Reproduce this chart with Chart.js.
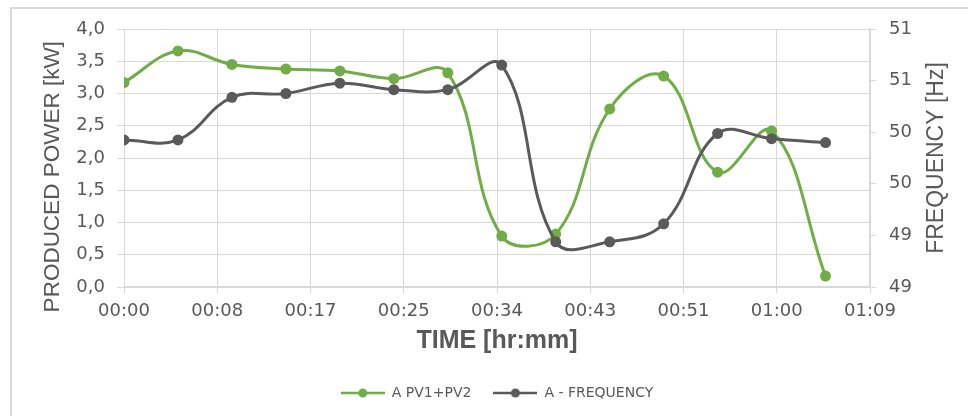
<!DOCTYPE html>
<html>
<head>
<meta charset="utf-8">
<script src="https://cdn.jsdelivr.net/npm/chart.js@4/dist/chart.umd.min.js"></script>
<style>
  html, body { margin: 0; padding: 0; background: #fff; }
  #wrap { position: relative; width: 968px; height: 416px; overflow: hidden; }
  #frame { position: absolute; left: 10px; top: 7px; width: 1000px; height: 500px; border: 2px solid #d9d9d9; }
  #box { position: absolute; left: 0; top: 0; width: 968px; height: 416px; }
</style>
</head>
<body>
<div id="wrap">
  <div id="frame"></div>
  <div id="box"><canvas id="chart"></canvas></div>
</div>
<script>
// time of each reading, minutes from start
const times = [0, 5, 10, 15, 20, 25, 30, 35, 40, 45, 50, 55, 60, 65];
// A PV1+PV2 [kW]
const power = [3.17, 3.66, 3.45, 3.38, 3.35, 3.23, 3.32, 0.79, 0.82, 2.76, 3.27, 1.78, 2.42, 0.17];
// A - FREQUENCY [Hz]
const frequency = [50.14, 50.14, 50.47, 50.50, 50.58, 50.53, 50.53, 50.72, 49.35, 49.35, 49.49, 50.19, 50.15, 50.12];

// axis ticks
const timeStep = 8.64;
const timeLabels = ['00:00', '00:08', '00:17', '00:25', '00:34', '00:43', '00:51', '01:00', '01:09'];
const freqTicks = [49.0, 49.4, 49.8, 50.2, 50.6, 51.0];
const freqLabels = ['49', '49', '50', '50', '51', '51'];
const freqTitle = 'FREQUENCY [Hz]';

const GREEN = '#70ad47';
const GRAY = '#5a5a5a';
const TEXT = '#595959';
const GRID = '#d9d9d9';

// legend marker: short line with a dot
function legendMarker(color) {
  const c = document.createElement('canvas');
  c.width = 44;
  c.height = 12;
  const g = c.getContext('2d');
  g.strokeStyle = color;
  g.lineWidth = 2.5;
  g.beginPath();
  g.moveTo(0, 6);
  g.lineTo(44, 6);
  g.stroke();
  g.fillStyle = color;
  g.beginPath();
  g.arc(22, 6, 4.5, 0, Math.PI * 2);
  g.fill();
  return c;
}

// right axis title reads bottom-to-top like the left one
const rightTitle = {
  id: 'rightTitle',
  afterDraw(chart) {
    const { ctx, chartArea } = chart;
    ctx.save();
    ctx.translate(937, (chartArea.top + chartArea.bottom) / 2);
    ctx.rotate(-Math.PI / 2);
    ctx.font = '23px "Liberation Sans"';
    ctx.fillStyle = TEXT;
    ctx.textAlign = 'center';
    ctx.textBaseline = 'middle';
    ctx.fillText(freqTitle, 0, 0);
    ctx.restore();
  }
};

const ctx = document.getElementById('chart').getContext('2d');
new Chart(ctx, {
  type: 'line',
  data: {
    datasets: [{
      label: 'A PV1+PV2',
      data: times.map((t, i) => ({ x: t, y: power[i] })),
      yAxisID: 'y',
      borderColor: GREEN,
      backgroundColor: GREEN,
      borderWidth: 3,
      pointRadius: 5.5,
      pointBorderWidth: 0,
      tension: 0.4,
      order: 1
    }, {
      label: 'A - FREQUENCY',
      data: times.map((t, i) => ({ x: t, y: frequency[i] })),
      yAxisID: 'y1',
      borderColor: GRAY,
      backgroundColor: GRAY,
      borderWidth: 3,
      pointRadius: 5.5,
      pointBorderWidth: 0,
      tension: 0.4,
      order: 0
    }]
  },
  plugins: [rightTitle],
  options: {
    responsive: true,
    maintainAspectRatio: false,
    animation: false,
    layout: {
      padding: { top: 29, bottom: 6 }
    },
    plugins: {
      tooltip: { enabled: false },
      legend: {
        position: 'bottom',
        fullSize: false,
        labels: {
          usePointStyle: true,
          pointStyleWidth: 44,
          padding: 22,
          color: TEXT,
          font: { family: 'DejaVu Sans', size: 14 },
          generateLabels: function(chart) {
            return chart.data.datasets.map((ds, i) => ({
              text: ds.label,
              datasetIndex: i,
              pointStyle: legendMarker(ds.borderColor),
              fillStyle: ds.borderColor,
              strokeStyle: ds.borderColor,
              lineWidth: 0,
              fontColor: TEXT,
              hidden: false
            }));
          }
        }
      }
    },
    scales: {
      x: {
        type: 'linear',
        min: 0,
        max: timeStep * (timeLabels.length - 1),
        afterBuildTicks: function(scale) {
          scale.ticks = timeLabels.map((l, i) => ({ value: i * timeStep }));
        },
        afterFit: function(scale) {
          scale.height = 77;
        },
        grid: { color: GRID, lineWidth: 1, tickLength: 6, tickColor: GRID },
        border: { color: GRID, width: 1.5 },
        ticks: {
          color: TEXT,
          padding: 8,
          maxRotation: 0,
          autoSkip: false,
          font: { family: 'DejaVu Sans', size: 18 },
          callback: function(value, index) {
            return timeLabels[index];
          }
        },
        title: {
          display: true,
          text: 'TIME [hr:mm]',
          color: TEXT,
          padding: { top: 0, bottom: 8 },
          font: { family: 'Liberation Sans', size: 25, weight: 'bold' }
        }
      },
      y: {
        position: 'left',
        min: 0,
        max: 4,
        afterFit: function(scale) {
          scale.width = 124;
        },
        grid: { color: GRID, lineWidth: 1, tickLength: 7, tickColor: GRID },
        border: { display: false },
        ticks: {
          stepSize: 0.5,
          color: TEXT,
          padding: 12,
          font: { family: 'DejaVu Sans', size: 18 },
          callback: function(value) {
            return value.toFixed(1).replace('.', ',');
          }
        },
        title: {
          display: true,
          text: 'PRODUCED POWER [kW]      ',
          color: TEXT,
          padding: { top: 39, bottom: 0 },
          font: { family: 'Liberation Sans', size: 22.5 }
        }
      },
      y1: {
        position: 'right',
        min: freqTicks[0],
        max: freqTicks[freqTicks.length - 1],
        afterBuildTicks: function(scale) {
          scale.ticks = freqTicks.map(v => ({ value: v }));
        },
        afterFit: function(scale) {
          scale.width = 98;
        },
        grid: { drawOnChartArea: false, tickLength: 6, color: GRID },
        border: { color: GRID, width: 1.5 },
        ticks: {
          color: TEXT,
          padding: 13,
          font: { family: 'DejaVu Sans', size: 18 },
          callback: function(value, index) {
            return freqLabels[index];
          }
        }
      }
    }
  }
});
</script>
</body>
</html>
